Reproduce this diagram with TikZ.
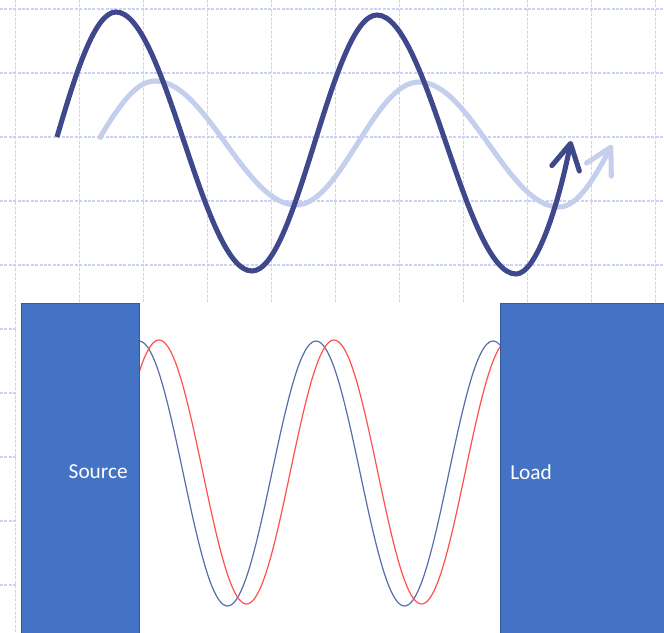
\documentclass[tikz,border=0pt]{standalone}
\usepackage{fontspec}
\setmainfont{Carlito}
\usetikzlibrary{arrows.meta}
\definecolor{gridlav}{RGB}{200,210,250}
\definecolor{wavedark}{RGB}{64,72,140}
\definecolor{wavelight}{RGB}{198,206,238}
\definecolor{boxblue}{RGB}{68,114,196}
\definecolor{lineblue}{RGB}{88,110,170}
\definecolor{linered}{RGB}{255,80,80}

\begin{document}
\begin{tikzpicture}[
  x=0.75pt, y=-0.75pt,
  gridline/.style={draw=gridlav, line width=0.8pt, dash pattern=on 2.2pt off 1.1pt},
  bigwave/.style={line width=3.8pt, -{Straight Barb[round, length=19pt, width=21pt]}},
  thinwave/.style={line width=0.9pt, samples=160},
  block/.style={fill=boxblue, draw=boxblue!80!black, line width=0.6pt},
  blocktext/.style={text=white, font=\fontsize{16}{19}\selectfont, inner sep=0pt}
]
\useasboundingbox (0,0) rectangle (664,632);
\foreach \gx in {0,...,10}
  \draw[gridline] ({15.5+64*\gx},0) -- ({15.5+64*\gx},632);
\foreach \gy in {0,...,9}
  \draw[gridline] (0,{9+64*\gy}) -- (664,{9+64*\gy});
\fill[white] (17,302) rectangle (664,632);

\coordinate (l0) at (99,139);
\coordinate (l1) at (155,81);
\coordinate (l2) at (296,205);
\coordinate (l3) at (419,82);
\coordinate (l4) at (559,207);
\coordinate (l5) at (612,145);
\draw[bigwave, wavelight] (l0) .. controls +(18,-30) and +(-20,0) .. (l1)
  .. controls +(51,0) and +(-51,0) .. (l2)
  .. controls +(45,0) and +(-45,0) .. (l3)
  .. controls +(51,0) and +(-51,0) .. (l4)
  .. controls +(19,0) and +(-17,32) .. (l5);

\coordinate (d0) at (57,137);
\coordinate (d1) at (116,12);
\coordinate (d2) at (252,271);
\coordinate (d3) at (377,15);
\coordinate (d4) at (516,274);
\coordinate (d5) at (571,141);
\draw[bigwave, wavedark] (d0) .. controls +(19,-65) and +(-21,0) .. (d1)
  .. controls +(49,0) and +(-49,0) .. (d2)
  .. controls +(45,0) and +(-45,0) .. (d3)
  .. controls +(50,0) and +(-50,0) .. (d4)
  .. controls +(20,0) and +(-13,66) .. (d5);

\draw[thinwave, lineblue] plot[domain=139:500] (\x,{473.5-132.5*cos((\x-139)/177*360)});
\draw[thinwave, linered] plot[domain=139:500] (\x,{472-132*cos((\x-159)/175*360)});

\draw[block] (21,303) rectangle (139,634);
\draw[block] (500,303) rectangle (666,634);
\node[blocktext, anchor=east] (source) at (128,472) {Source};
\node[blocktext, anchor=west] (load) at (510,472) {Load};
\end{tikzpicture}
\end{document}
